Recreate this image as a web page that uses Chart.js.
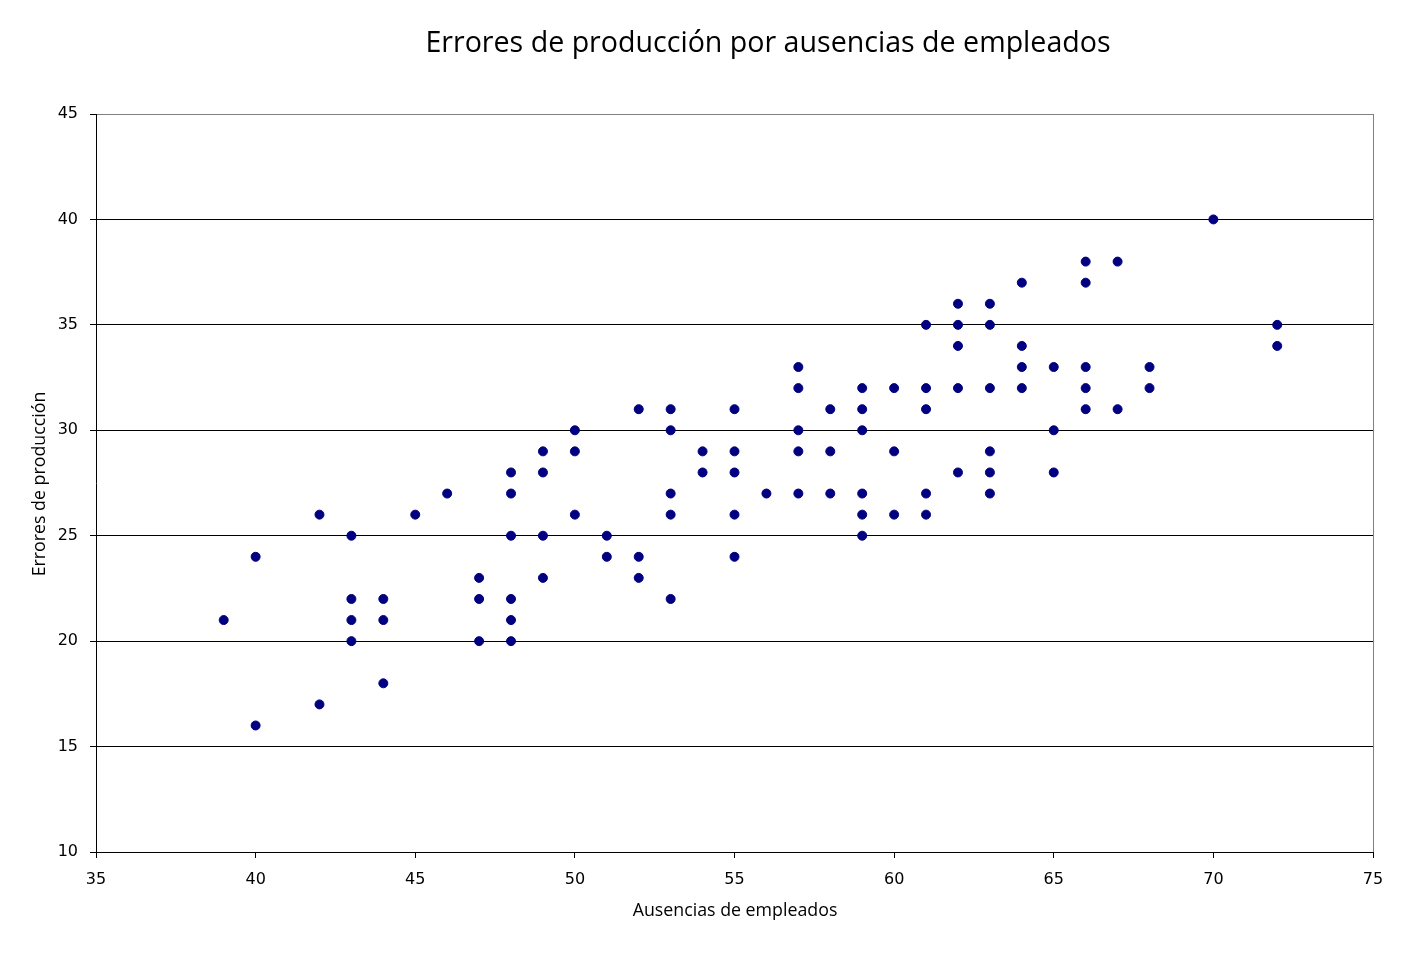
<!DOCTYPE html>
<html><head><meta charset="utf-8">
<script src="https://cdn.jsdelivr.net/npm/chart.js@4"></script>
<style>html,body{margin:0;padding:0;background:#fff}#wrap{width:1406px;height:957px}</style>
</head><body><div id="wrap"><canvas id="c" width="1406" height="957"></canvas></div>
<script>
const titleText = "Errores de producción por ausencias de empleados";
const xTitle = "Ausencias de empleados";
const yTitle = "Errores de producción";
const ausencias = [39,40,40,42,42,43,43,43,43,44,44,44,45,46,47,47,47,48,48,48,48,48,48,49,49,49,49,50,50,50,51,51,52,52,52,53,53,53,53,53,54,54,55,55,55,55,55,56,57,57,57,57,57,58,58,58,59,59,59,59,59,59,60,60,60,61,61,61,61,61,62,62,62,62,62,63,63,63,63,63,63,64,64,64,64,65,65,65,66,66,66,66,66,67,67,68,68,70,72,72];
const errores  = [21,24,16,26,17,25,22,21,20,22,21,18,26,27,23,22,20,28,27,25,22,21,20,29,28,25,23,30,29,26,25,24,31,24,23,31,30,27,26,22,29,28,31,29,28,26,24,27,33,32,30,29,27,31,29,27,32,31,30,27,26,25,32,29,26,35,32,31,27,26,36,35,34,32,28,36,35,32,29,28,27,37,34,33,32,33,30,28,38,37,33,32,31,38,31,33,32,40,35,34];
const points = ausencias.map((x,i)=>({x:x,y:errores[i]}));

const textPlugin = {
  id:'texts',
  afterDraw(chart){
    const ctx = chart.ctx, a = chart.chartArea;
    ctx.save();
    ctx.strokeStyle = '#808080'; ctx.lineWidth = 1;
    ctx.beginPath(); ctx.moveTo(a.right+0.5, a.top); ctx.lineTo(a.right+0.5, a.bottom); ctx.stroke();
    ctx.fillStyle = '#000';
    ctx.textAlign = 'center'; ctx.textBaseline = 'middle';
    ctx.font = '28.6px "Open Sans"';
    ctx.fillText(titleText, 768, 44);
    ctx.font = '17.8px "Open Sans"';
    ctx.fillText(xTitle, 735, 911);
    ctx.translate(40, 484); ctx.rotate(-Math.PI/2);
    ctx.fillText(yTitle, 0, 0);
    ctx.restore();
  }
};

new Chart(document.getElementById('c'), {
  type:'scatter',
  data:{datasets:[{data:points, backgroundColor:'#000080', borderColor:'#000080', pointRadius:4.5, pointHoverRadius:4.5}]},
  options:{
    responsive:false, animation:false, devicePixelRatio:1,
    layout:{padding:{top:114,right:33,left:0,bottom:0}},
    plugins:{legend:{display:false}, tooltip:{enabled:false}},
    scales:{
      x:{type:'linear', min:35, max:75,
        ticks:{stepSize:5, color:'#000', font:{family:'DejaVu Sans', size:16}, padding:12, maxRotation:0},
        grid:{drawOnChartArea:false, color:'#000', tickLength:6, tickColor:'#000'},
        border:{color:'#000', width:1},
        afterFit(s){ s.height = 105; }
      },
      y:{type:'linear', min:10, max:45,
        ticks:{stepSize:5, color:'#000', font:{family:'DejaVu Sans', size:16}, padding:12},
        grid:{color:(c)=> c.tick && c.tick.value===45 ? '#808080' : '#000', tickColor:'#000', tickLength:6},
        border:{color:'#000', width:1},
        afterFit(s){ s.width = 96; }
      }
    }
  },
  plugins:[textPlugin]
});
</script></body></html>
